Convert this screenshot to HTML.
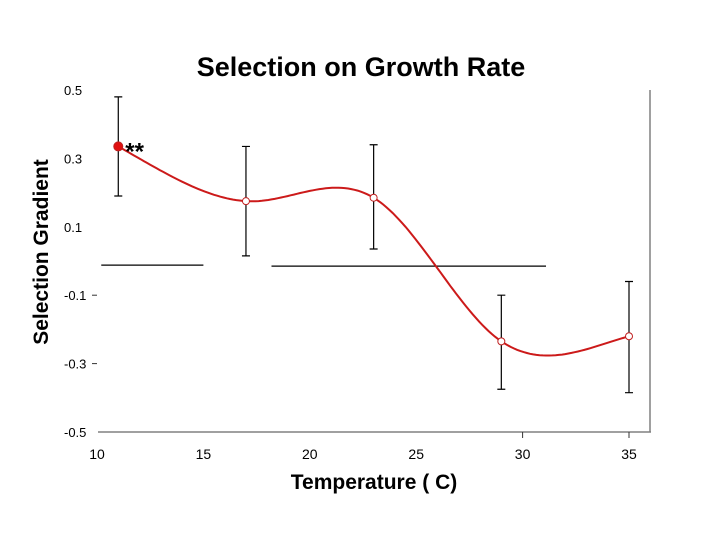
<!DOCTYPE html>
<html><head><meta charset="utf-8"><style>
body{margin:0;background:#fff;}
svg{display:block;font-family:"Liberation Sans",Arial,sans-serif;}
</style></head><body>
<svg id="chart" width="720" height="540" viewBox="0 0 720 540">
<rect width="720" height="540" fill="#fff"/>
<text x="361" y="76" text-anchor="middle" font-size="27" font-weight="bold">Selection on Growth Rate</text>
<text transform="translate(48,252) rotate(-90)" text-anchor="middle" font-size="21" font-weight="bold">Selection Gradient</text>
<text x="374" y="489" text-anchor="middle" font-size="21" font-weight="bold">Temperature ( C)</text>
<line x1="98" y1="432" x2="651" y2="432" stroke="#808080" stroke-width="1.5"/>
<line x1="650" y1="90" x2="650" y2="432" stroke="#808080" stroke-width="1.5"/>
<g id="g"></g>
</svg>
<script>
const xTicks=[10,15,20,25,30,35];
const yTicks=[0.5,0.3,0.1,-0.1,-0.3,-0.5];
const yTickLabels=["0.5","0.3","0.1","-0.1","-0.3","-0.5"];
const temps=[11,17,23,29,35];
const gradient=[0.335,0.175,0.185,-0.235,-0.22];
const errHigh=[0.48,0.335,0.34,-0.1,-0.06];
const errLow=[0.19,0.015,0.035,-0.375,-0.385];
const sigBarsStart=[10.2,18.2];
const sigBarsEnd=[15,31.1];
const sigBarsY=[-0.012,-0.015];
const X=v=>97+(v-10)*21.28;
const Y=v=>90+(0.5-v)*342;
const g=document.getElementById('g');
const NS='http://www.w3.org/2000/svg';
function mk(t,a){const e=document.createElementNS(NS,t);for(const k in a)e.setAttribute(k,a[k]);g.appendChild(e);return e;}
xTicks.forEach(v=>{
 if(v>=30){const t=mk('line',{x1:X(v),x2:X(v),y1:432,y2:438,stroke:'#333'});
 
 }
 const l=mk('text',{x:X(v),y:459,'text-anchor':'middle','font-size':14});l.textContent=v;
 
 
});
yTicks.forEach((v,i)=>{
 const l=mk('text',{x:64,y:Y(v)+5,'font-size':13});l.textContent=yTickLabels[i];
 
 
 if(v<0&&v>-0.5){const t=mk('line',{x1:92,x2:97,y1:Y(v),y2:Y(v),stroke:'#333'});
 
 }
});
sigBarsStart.forEach((s,i)=>{
 const b=mk('line',{x1:X(s),x2:X(sigBarsEnd[i]),y1:Y(sigBarsY[i]),y2:Y(sigBarsY[i]),stroke:'#000','stroke-width':1.2});
 
 
});
temps.forEach((t,i)=>{
 const x=X(t);
 const e=mk('path',{d:`M${x},${Y(errHigh[i])}V${Y(errLow[i])}M${x-4},${Y(errHigh[i])}h8M${x-4},${Y(errLow[i])}h8`,stroke:'#000','stroke-width':1.2,fill:'none'});
 
 
});
// natural cubic spline blended with Catmull-Rom
const n=temps.length,h=[],al=[],l=[1],mu=[0],z=[0],c=new Array(n).fill(0),b=[],d=[];
for(let i=0;i<n-1;i++)h[i]=temps[i+1]-temps[i];
for(let i=1;i<n-1;i++)al[i]=3/h[i]*(gradient[i+1]-gradient[i])-3/h[i-1]*(gradient[i]-gradient[i-1]);
for(let i=1;i<n-1;i++){l[i]=2*(temps[i+1]-temps[i-1])-h[i-1]*mu[i-1];mu[i]=h[i]/l[i];z[i]=(al[i]-h[i-1]*z[i-1])/l[i];}
for(let j=n-2;j>=0;j--){c[j]=(j>0?z[j]-mu[j]*c[j+1]:0);b[j]=(gradient[j+1]-gradient[j])/h[j]-h[j]*(c[j+1]+2*c[j])/3;d[j]=(c[j+1]-c[j])/(3*h[j]);}
const m=temps.map((t,i)=>{const a=Math.max(0,i-1),e=Math.min(n-1,i+1);return (gradient[e]-gradient[a])/(temps[e]-temps[a]);});
let p='';
for(let j=0;j<n-1;j++)for(let s=0;s<=40;s++){
 const u=s/40,dx=h[j]*u;
 const v1=gradient[j]+b[j]*dx+c[j]*dx*dx+d[j]*dx*dx*dx;
 const h00=2*u*u*u-3*u*u+1,h10=u*u*u-2*u*u+u,h01=-2*u*u*u+3*u*u,h11=u*u*u-u*u;
 const v2=h00*gradient[j]+h10*h[j]*m[j]+h01*gradient[j+1]+h11*h[j]*m[j+1];
 const v=0.6*v1+0.4*v2;
 p+=(p?'L':'M')+X(temps[j]+dx).toFixed(1)+','+Y(v).toFixed(1);}
const curve=mk('path',{d:p,fill:'none',stroke:'#cc1a1a','stroke-width':2});


temps.forEach((t,i)=>{
 const pt=mk('circle',{cx:X(t),cy:Y(gradient[i]),r:i==0?4.5:3.5,fill:i==0?'#e01010':'#fff',stroke:'#c02020','stroke-width':1});
 
 
});
const st=mk('text',{x:X(temps[0])+7,y:Y(gradient[0])+13,'font-size':24,'font-weight':'bold'});st.textContent='**';


</script>
</body></html>
